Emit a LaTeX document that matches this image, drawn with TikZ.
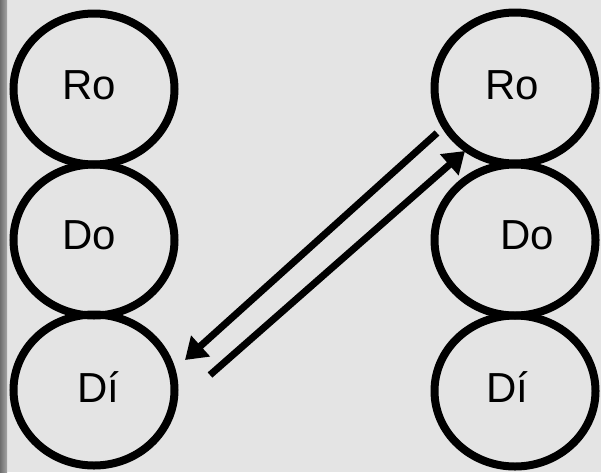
\documentclass[tikz,border=0pt]{standalone}
\usepackage{fontspec}
\setmainfont{Liberation Sans}
\usetikzlibrary{shapes.geometric,arrows.meta}
\definecolor{bgpaper}{RGB}{228,228,228}
\definecolor{stripdark}{RGB}{110,110,110}
\definecolor{striplight}{RGB}{165,165,165}
\tikzset{
  ring/.style={ellipse, draw=black, line width=8pt, minimum width=161pt, minimum height=151pt, inner sep=0pt, outer sep=0pt},
  word/.style={font=\fontsize{42}{42}\selectfont, text=black, inner sep=0pt},
  bigarrow/.style={line width=7pt, -{Triangle[length=21pt,width=27pt]}}
}
\begin{document}
\begin{tikzpicture}[x=1pt,y=-1pt]
\useasboundingbox (0,0) rectangle (601,472);
\fill[bgpaper] (0,0) rectangle (601,472);
\shade[left color=stripdark, right color=striplight] (0,0) rectangle (7,472);
% left column
\node[ring] (lro) at (94,89) {};
\node[ring] (ldo) at (94,240) {};
\node[ring] (ldi) at (94,390) {};
\node[word] (tlro) at (89,85) {Ro};
\node[word] (tldo) at (89,235) {Do};
\node[word] (tldi) at (98,387) {Dí};
% right column
\node[ring] (rro) at (515,88) {};
\node[ring] (rdo) at (515,240) {};
\node[ring] (rdi) at (515,391) {};
\node[word] (trro) at (512,85) {Ro};
\node[word] (trdo) at (527,235) {Do};
\node[word] (trdi) at (507,387) {Dí};
% arrows
\coordinate (a1s) at (437,133);
\coordinate (a1e) at (185,360);
\coordinate (a2s) at (210,375);
\coordinate (a2e) at (465,151);
\draw[bigarrow] (a1s) -- (a1e);
\draw[bigarrow] (a2s) -- (a2e);
\end{tikzpicture}
\end{document}
